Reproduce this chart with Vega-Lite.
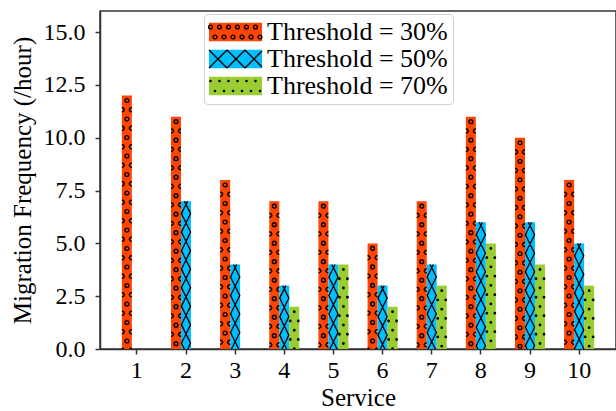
{
  "$schema": "https://vega.github.io/schema/vega-lite/v6.json",
  "autosize": "none",
  "width": 516,
  "height": 338,
  "padding": {"left": 100, "top": 11, "right": 0, "bottom": 62},
  "background": "white",
  "config": {
    "font": "Liberation Serif",
    "view": {"stroke": "#333", "strokeWidth": 1.5},
    "axis": {"grid": false, "domainColor": "#333", "domainWidth": 1.5, "tickColor": "#333", "tickWidth": 1.5, "tickSize": 5, "labelColor": "black", "titleColor": "black", "titleFontWeight": "normal", "labelFont": "Liberation Serif", "titleFont": "Liberation Serif"}
  },
  "data": {
    "values": [
      {"service": 1, "threshold": "Threshold = 30%", "value": 12},
      {"service": 1, "threshold": "Threshold = 50%", "value": 0},
      {"service": 1, "threshold": "Threshold = 70%", "value": 0},
      {"service": 2, "threshold": "Threshold = 30%", "value": 11},
      {"service": 2, "threshold": "Threshold = 50%", "value": 7},
      {"service": 2, "threshold": "Threshold = 70%", "value": 0},
      {"service": 3, "threshold": "Threshold = 30%", "value": 8},
      {"service": 3, "threshold": "Threshold = 50%", "value": 4},
      {"service": 3, "threshold": "Threshold = 70%", "value": 0},
      {"service": 4, "threshold": "Threshold = 30%", "value": 7},
      {"service": 4, "threshold": "Threshold = 50%", "value": 3},
      {"service": 4, "threshold": "Threshold = 70%", "value": 2},
      {"service": 5, "threshold": "Threshold = 30%", "value": 7},
      {"service": 5, "threshold": "Threshold = 50%", "value": 4},
      {"service": 5, "threshold": "Threshold = 70%", "value": 4},
      {"service": 6, "threshold": "Threshold = 30%", "value": 5},
      {"service": 6, "threshold": "Threshold = 50%", "value": 3},
      {"service": 6, "threshold": "Threshold = 70%", "value": 2},
      {"service": 7, "threshold": "Threshold = 30%", "value": 7},
      {"service": 7, "threshold": "Threshold = 50%", "value": 4},
      {"service": 7, "threshold": "Threshold = 70%", "value": 3},
      {"service": 8, "threshold": "Threshold = 30%", "value": 11},
      {"service": 8, "threshold": "Threshold = 50%", "value": 6},
      {"service": 8, "threshold": "Threshold = 70%", "value": 5},
      {"service": 9, "threshold": "Threshold = 30%", "value": 10},
      {"service": 9, "threshold": "Threshold = 50%", "value": 6},
      {"service": 9, "threshold": "Threshold = 70%", "value": 4},
      {"service": 10, "threshold": "Threshold = 30%", "value": 8},
      {"service": 10, "threshold": "Threshold = 50%", "value": 5},
      {"service": 10, "threshold": "Threshold = 70%", "value": 3}
    ]
  },
  "encoding": {
    "x": {"field": "service", "type": "ordinal", "title": "Service",
      "scale": {"paddingInner": 0, "paddingOuter": 0.25},
      "axis": {"labelAngle": 0, "labelFontSize": 24, "titleFontSize": 25, "labelPadding": 4, "titlePadding": 3}},
    "xOffset": {"field": "threshold", "type": "nominal", "scale": {"paddingInner": 0, "paddingOuter": 0.957}},
    "y": {"field": "value", "type": "quantitative", "title": "Migration Frequency (/hour)",
      "scale": {"domain": [0, 16], "nice": false},
      "axis": {"values": [0, 2.5, 5, 7.5, 10, 12.5, 15], "format": ".1f", "labelFontSize": 24, "titleFontSize": 25, "labelPadding": 10, "titlePadding": 8}}
  },
  "layer": [
    {
      "mark": {"type": "bar"},
      "encoding": {
        "fill": {"field": "threshold", "type": "nominal",
          "scale": {"range": ["#FF4500", "#00BFFF", "#9ACD32"]},
          "legend": {"orient": "none", "legendX": 104, "legendY": 3, "title": null, "padding": 5, "rowPadding": 1,
            "labelFontSize": 26, "labelFont": "Liberation Serif", "labelOffset": 32, "labelLimit": 400,
            "symbolType": "M-13,-9.25 L40,-9.25 L40,9.25 L-13,9.25 Z", "symbolSize": 4, "symbolStrokeWidth": 0,
            "strokeColor": "#d0d0d0", "cornerRadius": 4}
        }
      }
    },
    {
      "transform": [{"filter": "datum.threshold == 'Threshold = 30%' && datum.value > 0"}],
      "mark": {"type": "point", "filled": false, "color": "black", "strokeWidth": 1.4, "size": 4, "opacity": 1, "clip": true,
        "shape": "M-1.9,5 a1.9,1.9 0 1,0 3.8,0 a1.9,1.9 0 1,0 -3.8,0 M-1.9,23.5 a1.9,1.9 0 1,0 3.8,0 a1.9,1.9 0 1,0 -3.8,0 M-1.9,42 a1.9,1.9 0 1,0 3.8,0 a1.9,1.9 0 1,0 -3.8,0 M-1.9,60.5 a1.9,1.9 0 1,0 3.8,0 a1.9,1.9 0 1,0 -3.8,0 M-1.9,79 a1.9,1.9 0 1,0 3.8,0 a1.9,1.9 0 1,0 -3.8,0 M-1.9,97.5 a1.9,1.9 0 1,0 3.8,0 a1.9,1.9 0 1,0 -3.8,0 M-1.9,116 a1.9,1.9 0 1,0 3.8,0 a1.9,1.9 0 1,0 -3.8,0 M-1.9,134.5 a1.9,1.9 0 1,0 3.8,0 a1.9,1.9 0 1,0 -3.8,0 M-1.9,153 a1.9,1.9 0 1,0 3.8,0 a1.9,1.9 0 1,0 -3.8,0 M-1.9,171.5 a1.9,1.9 0 1,0 3.8,0 a1.9,1.9 0 1,0 -3.8,0 M-1.9,190 a1.9,1.9 0 1,0 3.8,0 a1.9,1.9 0 1,0 -3.8,0 M-1.9,208.5 a1.9,1.9 0 1,0 3.8,0 a1.9,1.9 0 1,0 -3.8,0 M-1.9,227 a1.9,1.9 0 1,0 3.8,0 a1.9,1.9 0 1,0 -3.8,0 M-1.9,245.5 a1.9,1.9 0 1,0 3.8,0 a1.9,1.9 0 1,0 -3.8,0 M-1.9,264 a1.9,1.9 0 1,0 3.8,0 a1.9,1.9 0 1,0 -3.8,0 M-5,12.42 A1.9,1.9 0 1,1 -5,16.08 M5,12.42 A1.9,1.9 0 1,0 5,16.08 M-5,30.92 A1.9,1.9 0 1,1 -5,34.58 M5,30.92 A1.9,1.9 0 1,0 5,34.58 M-5,49.42 A1.9,1.9 0 1,1 -5,53.08 M5,49.42 A1.9,1.9 0 1,0 5,53.08 M-5,67.92 A1.9,1.9 0 1,1 -5,71.58 M5,67.92 A1.9,1.9 0 1,0 5,71.58 M-5,86.42 A1.9,1.9 0 1,1 -5,90.08 M5,86.42 A1.9,1.9 0 1,0 5,90.08 M-5,104.92 A1.9,1.9 0 1,1 -5,108.58 M5,104.92 A1.9,1.9 0 1,0 5,108.58 M-5,123.42 A1.9,1.9 0 1,1 -5,127.08 M5,123.42 A1.9,1.9 0 1,0 5,127.08 M-5,141.92 A1.9,1.9 0 1,1 -5,145.58 M5,141.92 A1.9,1.9 0 1,0 5,145.58 M-5,160.42 A1.9,1.9 0 1,1 -5,164.08 M5,160.42 A1.9,1.9 0 1,0 5,164.08 M-5,178.92 A1.9,1.9 0 1,1 -5,182.58 M5,178.92 A1.9,1.9 0 1,0 5,182.58 M-5,197.42 A1.9,1.9 0 1,1 -5,201.08 M5,197.42 A1.9,1.9 0 1,0 5,201.08 M-5,215.92 A1.9,1.9 0 1,1 -5,219.58 M5,215.92 A1.9,1.9 0 1,0 5,219.58 M-5,234.42 A1.9,1.9 0 1,1 -5,238.08 M5,234.42 A1.9,1.9 0 1,0 5,238.08 M-5,252.92 A1.9,1.9 0 1,1 -5,256.58 M5,252.92 A1.9,1.9 0 1,0 5,256.58"},
      "encoding": {}
    },
    {
      "transform": [{"filter": "datum.threshold == 'Threshold = 50%' && datum.value > 0"}],
      "mark": {"type": "point", "filled": false, "color": "black", "strokeWidth": 1.3, "size": 4, "opacity": 1, "clip": true,
        "shape": "M-1.62,0 L4.6,12.5 L-4.6,31 L4.6,49.5 L-4.6,68 L4.6,86.5 L-4.6,105 L4.6,123.5 L-4.6,142 L4.6,160.5 L-4.6,179 M1.62,0 L-4.6,12.5 L4.6,31 L-4.6,49.5 L4.6,68 L-4.6,86.5 L4.6,105 L-4.6,123.5 L4.6,142 L-4.6,160.5 L4.6,179"},
      "encoding": {}
    },
    {
      "transform": [{"filter": "datum.threshold == 'Threshold = 70%' && datum.value > 0"}],
      "mark": {"type": "point", "filled": false, "color": "black", "strokeWidth": 1.6, "size": 4, "opacity": 1, "clip": true,
        "shape": "M-0.6,5 a0.6,0.6 0 1,0 1.2,0 a0.6,0.6 0 1,0 -1.2,0 M-0.6,23.5 a0.6,0.6 0 1,0 1.2,0 a0.6,0.6 0 1,0 -1.2,0 M-0.6,42 a0.6,0.6 0 1,0 1.2,0 a0.6,0.6 0 1,0 -1.2,0 M-0.6,60.5 a0.6,0.6 0 1,0 1.2,0 a0.6,0.6 0 1,0 -1.2,0 M-0.6,79 a0.6,0.6 0 1,0 1.2,0 a0.6,0.6 0 1,0 -1.2,0 M-0.6,97.5 a0.6,0.6 0 1,0 1.2,0 a0.6,0.6 0 1,0 -1.2,0 M-0.6,116 a0.6,0.6 0 1,0 1.2,0 a0.6,0.6 0 1,0 -1.2,0 M-4.6,14.25 a0.6,0.6 0 1,0 1.2,0 a0.6,0.6 0 1,0 -1.2,0 M3.4,14.25 a0.6,0.6 0 1,0 1.2,0 a0.6,0.6 0 1,0 -1.2,0 M-4.6,32.75 a0.6,0.6 0 1,0 1.2,0 a0.6,0.6 0 1,0 -1.2,0 M3.4,32.75 a0.6,0.6 0 1,0 1.2,0 a0.6,0.6 0 1,0 -1.2,0 M-4.6,51.25 a0.6,0.6 0 1,0 1.2,0 a0.6,0.6 0 1,0 -1.2,0 M3.4,51.25 a0.6,0.6 0 1,0 1.2,0 a0.6,0.6 0 1,0 -1.2,0 M-4.6,69.75 a0.6,0.6 0 1,0 1.2,0 a0.6,0.6 0 1,0 -1.2,0 M3.4,69.75 a0.6,0.6 0 1,0 1.2,0 a0.6,0.6 0 1,0 -1.2,0 M-4.6,88.25 a0.6,0.6 0 1,0 1.2,0 a0.6,0.6 0 1,0 -1.2,0 M3.4,88.25 a0.6,0.6 0 1,0 1.2,0 a0.6,0.6 0 1,0 -1.2,0 M-4.6,106.75 a0.6,0.6 0 1,0 1.2,0 a0.6,0.6 0 1,0 -1.2,0 M3.4,106.75 a0.6,0.6 0 1,0 1.2,0 a0.6,0.6 0 1,0 -1.2,0"},
      "encoding": {}
    },
    {
      "mark": {"type": "point", "filled": false, "color": "black", "strokeWidth": 1.4, "size": 4, "opacity": 0},
      "encoding": {
        "shape": {"field": "threshold", "type": "nominal",
          "scale": {"domain": ["Threshold = 30%", "Threshold = 50%", "Threshold = 70%"],
            "range": [
              "M-13.4,-5 a1.9,1.9 0 1,0 3.8,0 a1.9,1.9 0 1,0 -3.8,0 M-4.4,-5 a1.9,1.9 0 1,0 3.8,0 a1.9,1.9 0 1,0 -3.8,0 M4.6,-5 a1.9,1.9 0 1,0 3.8,0 a1.9,1.9 0 1,0 -3.8,0 M13.6,-5 a1.9,1.9 0 1,0 3.8,0 a1.9,1.9 0 1,0 -3.8,0 M22.6,-5 a1.9,1.9 0 1,0 3.8,0 a1.9,1.9 0 1,0 -3.8,0 M31.6,-5 a1.9,1.9 0 1,0 3.8,0 a1.9,1.9 0 1,0 -3.8,0 M-8.9,5 a1.9,1.9 0 1,0 3.8,0 a1.9,1.9 0 1,0 -3.8,0 M0.1,5 a1.9,1.9 0 1,0 3.8,0 a1.9,1.9 0 1,0 -3.8,0 M9.1,5 a1.9,1.9 0 1,0 3.8,0 a1.9,1.9 0 1,0 -3.8,0 M18.1,5 a1.9,1.9 0 1,0 3.8,0 a1.9,1.9 0 1,0 -3.8,0 M27.1,5 a1.9,1.9 0 1,0 3.8,0 a1.9,1.9 0 1,0 -3.8,0 M36.1,5 a1.9,1.9 0 1,0 3.8,0 a1.9,1.9 0 1,0 -3.8,0",
              "M-13,-9 L5,9 M5,-9 L-13,9 M5,-9 L23,9 M23,-9 L5,9 M23,-9 L40,8 M40,-8 L23,9",
              "M-12.1,-5 a0.6,0.6 0 1,0 1.2,0 a0.6,0.6 0 1,0 -1.2,0 M-3.1,-5 a0.6,0.6 0 1,0 1.2,0 a0.6,0.6 0 1,0 -1.2,0 M5.9,-5 a0.6,0.6 0 1,0 1.2,0 a0.6,0.6 0 1,0 -1.2,0 M14.9,-5 a0.6,0.6 0 1,0 1.2,0 a0.6,0.6 0 1,0 -1.2,0 M23.9,-5 a0.6,0.6 0 1,0 1.2,0 a0.6,0.6 0 1,0 -1.2,0 M32.9,-5 a0.6,0.6 0 1,0 1.2,0 a0.6,0.6 0 1,0 -1.2,0 M-7.6,5 a0.6,0.6 0 1,0 1.2,0 a0.6,0.6 0 1,0 -1.2,0 M1.4,5 a0.6,0.6 0 1,0 1.2,0 a0.6,0.6 0 1,0 -1.2,0 M10.4,5 a0.6,0.6 0 1,0 1.2,0 a0.6,0.6 0 1,0 -1.2,0 M19.4,5 a0.6,0.6 0 1,0 1.2,0 a0.6,0.6 0 1,0 -1.2,0 M28.4,5 a0.6,0.6 0 1,0 1.2,0 a0.6,0.6 0 1,0 -1.2,0 M37.4,5 a0.6,0.6 0 1,0 1.2,0 a0.6,0.6 0 1,0 -1.2,0"
            ]},
          "legend": {"orient": "none", "legendX": 104, "legendY": 3, "title": null, "padding": 5, "rowPadding": 1,
            "labelFontSize": 26, "labelFont": "Liberation Serif", "labelExpr": "''", "symbolSize": 4, "symbolStrokeWidth": 1.4,
            "symbolStrokeColor": "black", "symbolFillColor": "transparent", "symbolOpacity": 1}
        }
      }
    }
  ]
}
